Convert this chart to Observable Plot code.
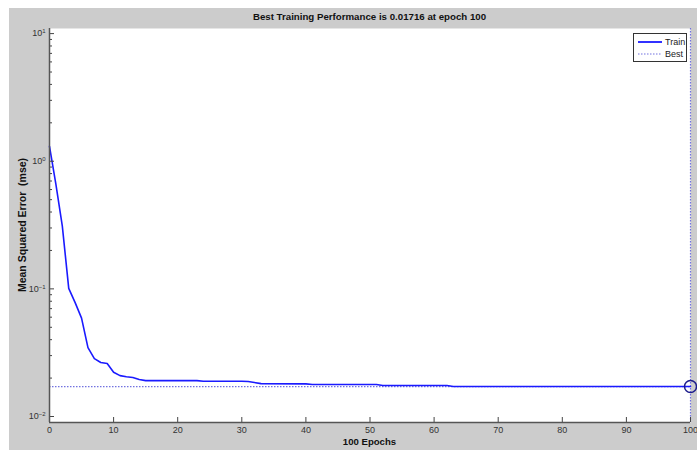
<!DOCTYPE html>
<html>
<head>
<meta charset="utf-8">
<script src="https://cdn.jsdelivr.net/npm/d3@7"></script>
<script src="https://cdn.jsdelivr.net/npm/@observablehq/plot@0.6"></script>
<style>
  html, body { margin: 0; padding: 0; background: #ffffff; }
  #wrap { position: relative; width: 697px; height: 450px; overflow: hidden; font-family: "Liberation Sans", Arial, sans-serif; }
  #bg { position: absolute; left: 9px; top: 8px; width: 688px; height: 442px; background: #cccccc; }
  #chart { position: absolute; left: 0; top: 0; }
  #title { position: absolute; left: 49px; width: 641px; top: 11px; text-align: center; font-weight: bold; font-size: 9.7px; color: #111; }
  #xlabel { position: absolute; left: 49px; width: 641px; top: 436px; text-align: center; font-weight: bold; font-size: 9.6px; color: #111; }
  #ylabel { position: absolute; left: 22px; top: 225px; transform: translate(-50%, -50%) rotate(-90deg); white-space: pre; font-weight: bold; font-size: 10.5px; color: #111; }
  #legend { position: absolute; left: 633px; top: 33px; width: 52px; height: 27px; background: #fff; border: 1px solid #333; font-size: 9px; color: #222; }
  #legend .row { position: absolute; left: 4px; height: 12px; display: flex; align-items: center; }
  #legend svg { display: block; }
</style>
</head>
<body>
<div id="wrap">
  <div id="bg"></div>
  <div id="chart"></div>
  <div id="title"></div>
  <div id="xlabel"></div>
  <div id="ylabel"></div>
  <div id="legend"></div>
</div>
<script>
// ---- data ----
const epochs = [0,1,2,3,4,5,6,7,8,9,10,11,12,13,14,15,23,24,30,31,33,40,41,51,52,62,63,100];
const trainMse = [1.31,0.66,0.31,0.101,0.078,0.059,0.0346,0.0284,0.0265,0.026,0.0222,0.0209,0.0205,0.0202,0.0195,0.0191,0.0191,0.0189,0.0189,0.0188,0.0181,0.018,0.0178,0.0178,0.0175,0.0175,0.01716,0.01716];
const bestEpoch = 100;
const bestValue = 0.01716;
const xTicks = [0,10,20,30,40,50,60,70,80,90,100];
const yTicks = [0.01, 0.1, 1, 10];
const yTickLabels = ["10^-2", "10^-1", "10^0", "10^1"];
const titleText = "Best Training Performance is 0.01716 at epoch 100";
const xLabelText = "100 Epochs";
const yLabelText = "Mean Squared Error  (mse)";
const legendLabels = ["Train", "Best"];

const trainData = epochs.map((e, i) => ({epoch: e, mse: trainMse[i]}));
const yDomain = [Math.pow(10, -2.047), Math.pow(10, 1.04)];
const minorTicks = [];
for (const d of [0.01, 0.1, 1]) for (let k = 2; k <= 9; k++) minorTicks.push(d * k);

const trainColor = "#1a1aff";
const bestColor = "#7272e0";

const plot = Plot.plot({
  width: 697,
  height: 450,
  marginLeft: 49,
  marginRight: 7,
  marginTop: 28,
  marginBottom: 28,
  style: {background: "transparent", fontFamily: "'Liberation Sans', Arial, sans-serif", fontSize: "9px", color: "#333"},
  x: {domain: [0, 100]},
  y: {type: "log", domain: yDomain},
  marks: [
    Plot.frame({fill: "white", stroke: null}),
    Plot.ruleY([bestValue], {stroke: bestColor, strokeWidth: 1.2, strokeDasharray: "1.5,1.5"}),
    Plot.ruleX([bestEpoch], {stroke: bestColor, strokeWidth: 1.2, strokeDasharray: "1.5,1.5"}),
    Plot.line(trainData, {x: "epoch", y: "mse", stroke: trainColor, strokeWidth: 1.6}),
    Plot.dot([{epoch: bestEpoch, mse: bestValue}], {x: "epoch", y: "mse", r: 6, stroke: "#1c1c8c", strokeWidth: 1.5, fill: "none"}),
    Plot.axisX({ticks: xTicks, tickSize: -5, tickPadding: 9, label: null, tickFormat: d => String(d), stroke: "#444"}),
    Plot.axisY({ticks: yTicks, tickSize: -5, tickPadding: 9, label: null, tickFormat: (d, i) => yTickLabels[yTicks.indexOf(d)], stroke: "#444"}),
    Plot.axisY({ticks: minorTicks, tickSize: -3, label: null, tickFormat: () => "", stroke: "#444"}),
    Plot.ruleX([0], {stroke: "#555", strokeWidth: 1.5}),
    Plot.ruleY([yDomain[0]], {stroke: "#555", strokeWidth: 1.5})
  ]
});

// superscript formatting of log tick labels
d3.select(plot).selectAll("text").each(function() {
  const t = d3.select(this);
  const s = t.text();
  const m = /^10\^(.+)$/.exec(s);
  if (m) {
    t.text("10");
    t.append("tspan").attr("dy", "-0.5em").attr("font-size", "6px").text(m[1].replace("-", "\u2212"));
  }
});

document.getElementById("chart").appendChild(plot);
document.getElementById("title").textContent = titleText;
document.getElementById("xlabel").textContent = xLabelText;
document.getElementById("ylabel").textContent = yLabelText;

const legend = document.getElementById("legend");
legendLabels.forEach((lab, i) => {
  const row = document.createElement("div");
  row.className = "row";
  row.style.top = (2 + i * 12) + "px";
  const dash = i === 0 ? "" : "stroke-dasharray='1.5,1.5'";
  const col = i === 0 ? trainColor : bestColor;
  const w = i === 0 ? 1.8 : 1.2;
  row.innerHTML = `<svg width="24" height="6"><line x1="0" x2="24" y1="3" y2="3" stroke="${col}" stroke-width="${w}" ${dash}/></svg><span style="margin-left:3px">${lab}</span>`;
  legend.appendChild(row);
});
</script>
</body>
</html>
